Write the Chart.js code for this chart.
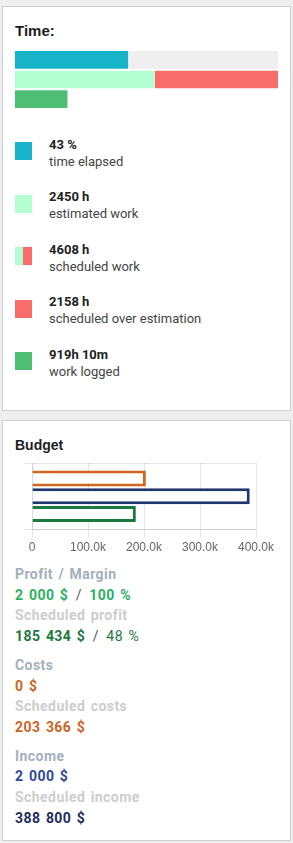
<!DOCTYPE html>
<html lang="en">
<head>
  <meta charset="UTF-8" />
  <title>Time / Budget</title>
  <script src="https://cdn.jsdelivr.net/npm/chart.js"></script>
  <style>
    body { margin: 0; background: #eeeeee; font-family: Roboto, sans-serif; }
    .panel { position: absolute; left: 2px; width: 289px; box-sizing: border-box;
             border: 1px solid #cfcfcf; background: #fff; padding-left: 12px; }
    .h { font-family: "Liberation Sans", Arial, sans-serif; font-weight: bold; color: #1e1e1e; }
    .legend-item { display: flex; align-items: flex-start; height: 52.5px; }
    .legend-item .sq { width: 17px; height: 18px; margin-right: 17px; margin-top: 6.7px; }
    .legend-item .val { font-weight: bold; font-size: 13px; line-height: 17px; color: #222; }
    .legend-item .lbl { font-size: 13px; line-height: 17px; color: #444; }
    .info div { font-size: 14px; line-height: 20.7px; font-weight: bold; letter-spacing: 0.45px; word-spacing: 1.5px; }
    .info .grp { margin-top: 8px; }
    .lab { color: #a3b0bb; }
    .sub { color: #cdcdcd; }
    .sep { color: #555; font-weight: normal; margin: 0 2px; }
  </style>
</head>
<body>

  <div class="panel" style="top:6px; height:405px;">
    <div class="h" style="font-size:15px; line-height:18px; margin-top:14.5px;">Time:</div>
    <div style="position:relative; width:263px; height:59px; margin-top:10.5px;">
      <canvas id="timeChart"></canvas>
    </div>
    <div id="timeLegend" style="margin-top:26.8px;"></div>
  </div>

  <div class="panel" style="top:420px; height:421px;">
    <div class="h" style="font-size:14px; line-height:16px; margin-top:15.5px;">Budget</div>
    <div style="position:relative; width:263px; height:95px; margin-top:10.5px;">
      <canvas id="budgetChart"></canvas>
    </div>
    <div class="info" style="margin-top:6px;">
      <div class="lab">Profit / Margin</div>
      <div style="color:#2bb062;">2 000 $ <span class="sep">/</span> 100 %</div>
      <div class="sub">Scheduled profit</div>
      <div style="color:#1b7a3f;">185 434 $ <span class="sep">/</span> <span style="font-weight:normal;">48 %</span></div>
      <div class="lab grp">Costs</div>
      <div style="color:#cc6526;">0 $</div>
      <div class="sub">Scheduled costs</div>
      <div style="color:#cc6526;">203 366 $</div>
      <div class="lab grp">Income</div>
      <div style="color:#2e4a9c;">2 000 $</div>
      <div class="sub">Scheduled income</div>
      <div style="color:#1c2e5c;">388 800 $</div>
    </div>
  </div>

  <script>
    // time data
    const timeRows = ['elapsed', 'work', 'logged'];
    const elapsedPct = [43, null, null];
    const remainingPct = [57, null, null];
    const estimatedHours = [null, 2450, null];
    const overHours = [null, 2158, null];
    const loggedHours = [null, null, 919.17];
    const totalHours = 4608;

    const timeLegend = [
      { value: '43 %', label: 'time elapsed', color: '#17b4c9' },
      { value: '2450 h', label: 'estimated work', color: '#b3ffd1' },
      { value: '4608 h', label: 'scheduled work', color: 'linear-gradient(90deg,#b3ffd1 50%,#f96c6c 50%)' },
      { value: '2158 h', label: 'scheduled over estimation', color: '#f96c6c' },
      { value: '919h 10m', label: 'work logged', color: '#4fbe75' }
    ];

    // budget data
    const budgetCategories = [''];
    const scheduledCosts = [203366];
    const scheduledIncome = [388800];
    const scheduledProfit = [185434];
    const budgetTicks = [0, 100000, 200000, 300000, 400000];

    const legendEl = document.getElementById('timeLegend');
    timeLegend.forEach(function (it) {
      const row = document.createElement('div');
      row.className = 'legend-item';
      row.innerHTML = '<div class="sq" style="background:' + it.color + '"></div>' +
        '<div><div class="val">' + it.value + '</div><div class="lbl">' + it.label + '</div></div>';
      legendEl.appendChild(row);
    });

    function bar(label, data, color, axis) {
      return { label: label, data: data, backgroundColor: color, xAxisID: axis,
               borderWidth: 0, barPercentage: 0.9, categoryPercentage: 1 };
    }

    new Chart(document.getElementById('timeChart'), {
      type: 'bar',
      data: {
        labels: timeRows,
        datasets: [
          bar('time elapsed', elapsedPct, '#17b4c9', 'xp'),
          bar('remaining', remainingPct, '#efefef', 'xp'),
          bar('estimated work', estimatedHours, '#b3ffd1', 'xh'),
          bar('scheduled over estimation', overHours, '#f96c6c', 'xh'),
          bar('work logged', loggedHours, '#4fbe75', 'xh')
        ]
      },
      options: {
        indexAxis: 'y',
        responsive: true,
        maintainAspectRatio: false,
        animation: false,
        plugins: { legend: { display: false }, tooltip: { enabled: false } },
        scales: {
          y: { display: false, stacked: true },
          xp: { display: false, stacked: true, min: 0, max: 100 },
          xh: { display: false, stacked: true, min: 0, max: totalHours }
        }
      }
    });

    new Chart(document.getElementById('budgetChart'), {
      type: 'bar',
      data: {
        labels: budgetCategories,
        datasets: [
          { label: 'Scheduled costs', data: scheduledCosts, borderColor: '#d0661f', backgroundColor: '#fff', borderWidth: 3 },
          { label: 'Scheduled income', data: scheduledIncome, borderColor: '#1f3670', backgroundColor: '#fff', borderWidth: 3 },
          { label: 'Scheduled profit', data: scheduledProfit, borderColor: '#1b7a40', backgroundColor: '#fff', borderWidth: 3 }
        ]
      },
      options: {
        indexAxis: 'y',
        responsive: true,
        maintainAspectRatio: false,
        animation: false,
        layout: { padding: { left: 9, right: 22 } },
        plugins: { legend: { display: false }, tooltip: { enabled: false } },
        scales: {
          y: { ticks: { display: false } },
          x: {
            min: budgetTicks[0],
            max: budgetTicks[budgetTicks.length - 1],
            afterBuildTicks: function (axis) { axis.ticks = budgetTicks.map(function (v) { return { value: v }; }); },
            ticks: {
              color: '#666',
              font: { size: 12 },
              callback: function (v) { return v === 0 ? '0' : (v / 1000).toFixed(1) + 'k'; }
            }
          }
        }
      }
    });
  </script>

</body>
</html>
